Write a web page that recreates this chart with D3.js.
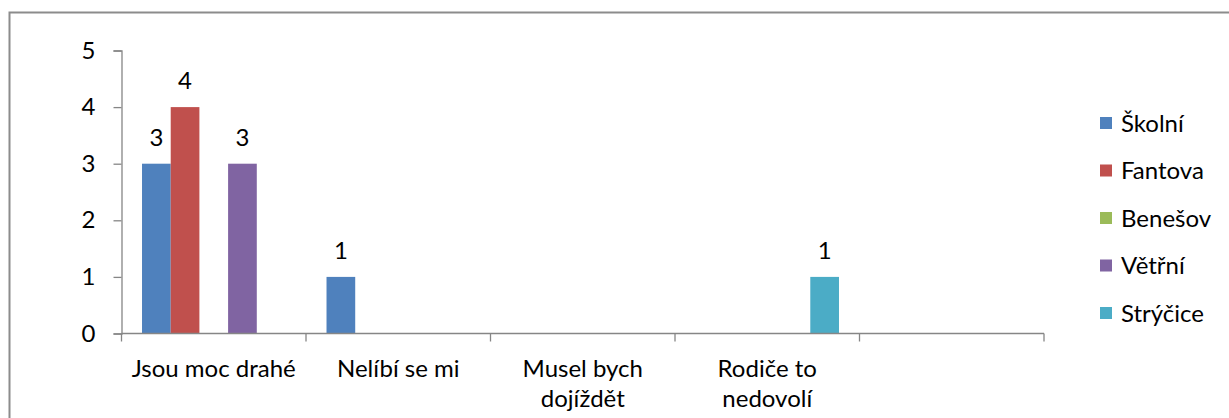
<!DOCTYPE html>
<html>
<head>
<meta charset="utf-8">
<script src="https://cdn.jsdelivr.net/npm/d3@7"></script>
<style>
  html, body { margin:0; padding:0; background:#fff; overflow:hidden; }
  svg { display:block; }
  text { font-family: Lato, "Open Sans", sans-serif; fill:#000; }
</style>
</head>
<body>
<svg id="chart" width="1229" height="418"></svg>
<script>
/* data */
const categories = ['Jsou moc drahé', 'Nelíbí se mi', 'Musel bych dojíždět', 'Rodiče to nedovolí', ''];
const series     = ['Školní', 'Fantova', 'Benešov', 'Větřní', 'Strýčice'];
const colors     = ['#4F81BD', '#C0504D', '#9BBB59', '#8064A2', '#4BACC6'];
const skolni     = [3, 1, 0, 0, 0];
const fantova    = [4, 0, 0, 0, 0];
const benesov    = [0, 0, 0, 0, 0];
const vetrni     = [3, 0, 0, 0, 0];
const strycice   = [0, 0, 0, 1, 0];
const yTicks     = [0, 1, 2, 3, 4, 5];

const values = [skolni, fantova, benesov, vetrni, strycice];
const FS = 24;

const svg = d3.select('#chart');

// outer chart frame (runs past the bottom/right of the picture)
svg.append('rect')
  .attr('x', 9.5).attr('y', 12.5).attr('width', 1300).attr('height', 500)
  .attr('fill', 'none').attr('stroke', '#8c8c8c').attr('stroke-width', 2);

const x = d3.scaleBand().domain(d3.range(categories.length)).range([121.5, 1044]).padding(0);
const xs = d3.scaleBand().domain(d3.range(series.length)).range([0, x.bandwidth()])
  .paddingInner(0).paddingOuter(0.715);
const y = d3.scaleLinear().domain([0, 5]).range([333.5, 50.5]);

// bars
const g = svg.append('g');
series.forEach((s, si) => {
  values[si].forEach((v, ci) => {
    if (!v) return;
    g.append('rect')
      .attr('x', x(ci) + xs(si)).attr('y', y(v))
      .attr('width', xs.bandwidth()).attr('height', y(0) - y(v))
      .attr('fill', colors[si]);
    g.append('text')
      .attr('x', x(ci) + xs(si) + xs.bandwidth() / 2).attr('y', y(v) - 18)
      .attr('text-anchor', 'middle').attr('font-size', FS)
      .text(v);
  });
});

// y axis
const yAxis = svg.append('g').attr('transform', 'translate(121.5,0)')
  .call(d3.axisLeft(y).tickValues(yTicks).tickSize(8).tickPadding(18).tickFormat(d3.format('d')));
yAxis.select('.domain').attr('stroke', '#868686').attr('stroke-width', 1.3);
yAxis.selectAll('.tick line').attr('stroke', '#868686').attr('stroke-width', 1.3);
yAxis.selectAll('.tick text').attr('font-size', FS).attr('font-family', 'Lato, sans-serif').attr('fill', '#000');

// x axis
const bounds = categories.map((c, i) => x(i)).concat([x.range()[1]]);
const xAxis = svg.append('g');
xAxis.append('line')
  .attr('x1', x.range()[0]).attr('x2', x.range()[1])
  .attr('y1', y(0)).attr('y2', y(0))
  .attr('stroke', '#868686').attr('stroke-width', 1.3);
xAxis.selectAll('line.tk').data(bounds).enter().append('line')
  .attr('class', 'tk')
  .attr('x1', d => d).attr('x2', d => d)
  .attr('y1', y(0)).attr('y2', y(0) + 8)
  .attr('stroke', '#868686').attr('stroke-width', 1.3);

const lbl = xAxis.selectAll('text.cat').data(categories).enter().append('text')
  .attr('class', 'cat')
  .attr('text-anchor', 'middle').attr('font-size', FS)
  .attr('x', (d, i) => x(i) + x.bandwidth() / 2)
  .attr('y', 376.5);

lbl.each(function(d, i) {
  const t = d3.select(this);
  const maxW = x.bandwidth() - 4;
  const words = d.split(' ').filter(w => w);
  let line = [], lines = [];
  const probe = t.append('tspan');
  words.forEach(w => {
    line.push(w);
    probe.text(line.join(' '));
    if (probe.node().getComputedTextLength() > maxW && line.length > 1) {
      line.pop();
      lines.push(line.join(' '));
      line = [w];
    }
  });
  if (line.length) lines.push(line.join(' '));
  probe.remove();
  lines.forEach((l, li) => {
    t.append('tspan').attr('x', x(i) + x.bandwidth() / 2).attr('dy', li ? 30 : 0).text(l);
  });
});

// legend
const leg = svg.append('g').attr('transform', 'translate(1100,123)');
series.forEach((s, i) => {
  const row = leg.append('g').attr('transform', 'translate(0,' + (i * 47.5) + ')');
  row.append('rect').attr('x', 0).attr('y', -6).attr('width', 12).attr('height', 12).attr('fill', colors[i]);
  row.append('text').attr('x', 21).attr('y', 8.5).attr('font-size', FS).text(s);
});
</script>
</body>
</html>
